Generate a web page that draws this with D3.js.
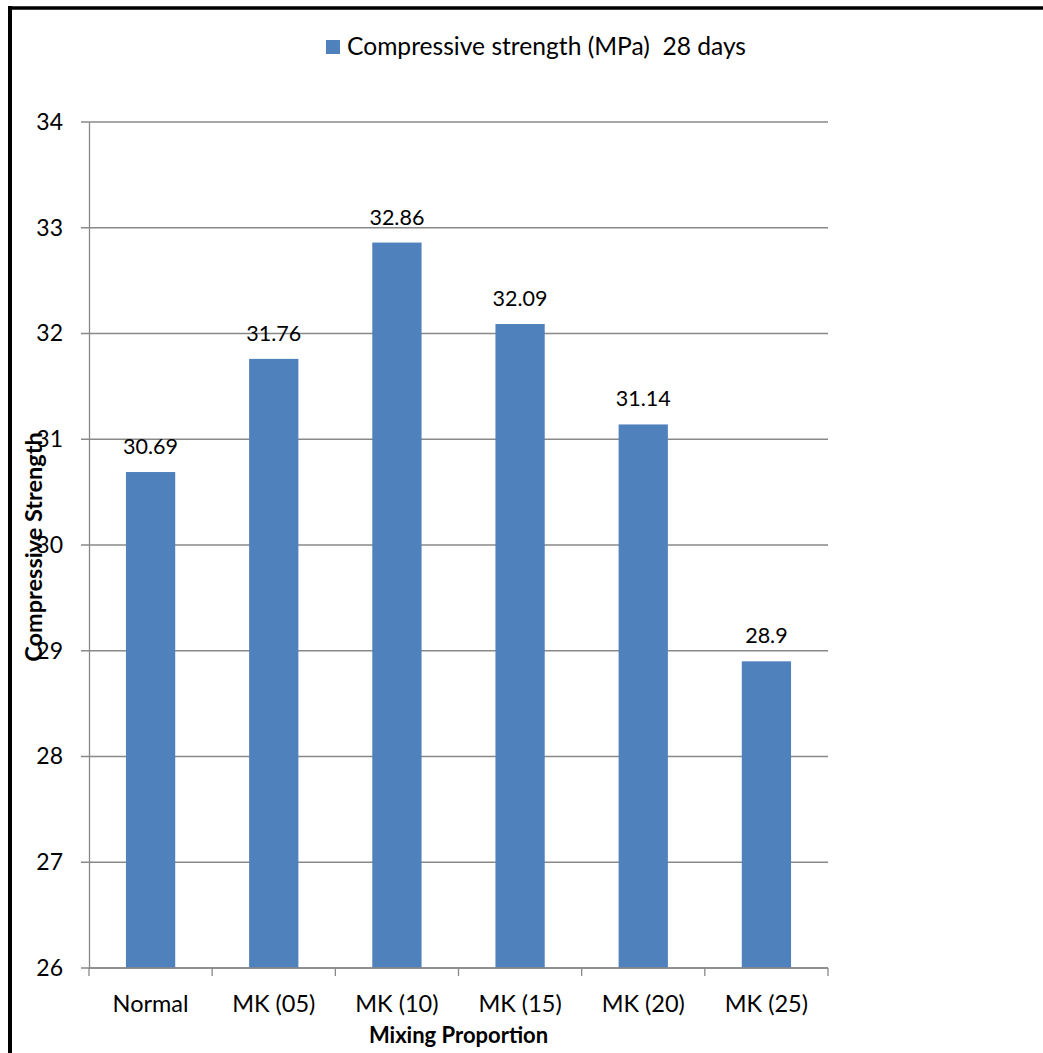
<!DOCTYPE html>
<html>
<head>
<meta charset="utf-8">
<script src="https://cdn.jsdelivr.net/npm/d3@7"></script>
<style>
  body { margin: 0; background: #fff; }
  text { font-family: Lato, "Open Sans", sans-serif; fill: #000; white-space: pre; }
</style>
</head>
<body>
<script>
// chart data
const categories = ['Normal', 'MK (05)', 'MK (10)', 'MK (15)', 'MK (20)', 'MK (25)'];
const strength28 = [30.69, 31.76, 32.86, 32.09, 31.14, 28.9];
const valueLabels = ['30.69', '31.76', '32.86', '32.09', '31.14', '28.9'];
const yTicks = [26, 27, 28, 29, 30, 31, 32, 33, 34];
const seriesName = 'Compressive strength (MPa)  28 days';

const svgWidth = 1043;
const svgHeight = 1053;
const margin = { top: 122, right: 215, bottom: 85, left: 89 };
const width = svgWidth - margin.left - margin.right;
const height = svgHeight - margin.top - margin.bottom;
const barColor = '#4F81BD';
const gridColor = '#898989';

const root = d3.select('body')
  .append('svg')
  .attr('width', svgWidth)
  .attr('height', svgHeight);

// outer frame (only top and left visible)
root.append('line')
  .attr('x1', 10).attr('x2', svgWidth).attr('y1', 8).attr('y2', 8)
  .attr('stroke', '#000').attr('stroke-width', 3.5);
root.append('line')
  .attr('x1', 10).attr('x2', 10).attr('y1', 6).attr('y2', svgHeight)
  .attr('stroke', '#000').attr('stroke-width', 4);

const svg = root.append('g')
  .attr('transform', `translate(${margin.left}, ${margin.top})`);

const xScale = d3.scaleBand().domain(categories).range([0, width]).paddingInner(0.6).paddingOuter(0.3);
const yScale = d3.scaleLinear().domain([26, 34]).range([height, 0]);

// horizontal gridlines
svg.append('g')
  .selectAll('line')
  .data(yTicks)
  .join('line')
  .attr('x1', -8)
  .attr('x2', width)
  .attr('y1', d => yScale(d))
  .attr('y2', d => yScale(d))
  .attr('stroke', gridColor)
  .attr('stroke-width', 1.3);

// y axis
const yAxis = d3.axisLeft(yScale).tickValues(yTicks).tickSize(0).tickPadding(26);
svg.append('g')
  .call(yAxis)
  .call(g => g.select('.domain').attr('stroke', gridColor).attr('stroke-width', 1.3))
  .call(g => g.selectAll('text').attr('font-size', 23).style('font-family', 'Lato, sans-serif'));

// bars
svg.append('g')
  .selectAll('rect')
  .data(strength28)
  .join('rect')
  .attr('x', (d, i) => xScale(categories[i]))
  .attr('y', d => yScale(d))
  .attr('width', xScale.bandwidth())
  .attr('height', d => height - yScale(d))
  .attr('fill', barColor);

// value labels
svg.append('g')
  .selectAll('text')
  .data(strength28)
  .join('text')
  .attr('x', (d, i) => xScale(categories[i]) + xScale.bandwidth() / 2)
  .attr('y', d => yScale(d) - 18)
  .attr('text-anchor', 'middle')
  .attr('font-size', 21.5)
  .text((d, i) => valueLabels[i]);

// x axis with ticks between categories
const step = xScale.step();
const x0 = xScale(categories[0]) - xScale.paddingOuter() * step;
svg.append('line')
  .attr('x1', 0).attr('x2', width)
  .attr('y1', height).attr('y2', height)
  .attr('stroke', gridColor).attr('stroke-width', 1.3);
svg.append('g')
  .selectAll('line')
  .data(d3.range(categories.length + 1))
  .join('line')
  .attr('x1', i => x0 + i * step)
  .attr('x2', i => x0 + i * step)
  .attr('y1', height)
  .attr('y2', height + 8)
  .attr('stroke', gridColor).attr('stroke-width', 1.3);
svg.append('g')
  .selectAll('text')
  .data(categories)
  .join('text')
  .attr('x', d => xScale(d) + xScale.bandwidth() / 2)
  .attr('y', height + 44)
  .attr('text-anchor', 'middle')
  .attr('font-size', 23.5)
  .text(d => d);

// axis titles
svg.append('text')
  .attr('x', width / 2)
  .attr('y', height + 75)
  .attr('text-anchor', 'middle')
  .attr('font-size', 22)
  .attr('font-weight', 'bold')
  .text('Mixing Proportion');

svg.append('text')
  .attr('transform', `translate(${-47}, ${height / 2 + 2}) rotate(-90)`)
  .attr('text-anchor', 'middle')
  .attr('font-size', 23.5)
  .attr('font-weight', 'bold')
  .text('Compressive Strength');

// legend
const legend = root.append('g').attr('transform', 'translate(326, 40)');
legend.append('rect')
  .attr('width', 14).attr('height', 14)
  .attr('fill', barColor);
legend.append('text')
  .attr('x', 21)
  .attr('y', 15)
  .attr('font-size', 24.6)
  .text(seriesName);
</script>
</body>
</html>
